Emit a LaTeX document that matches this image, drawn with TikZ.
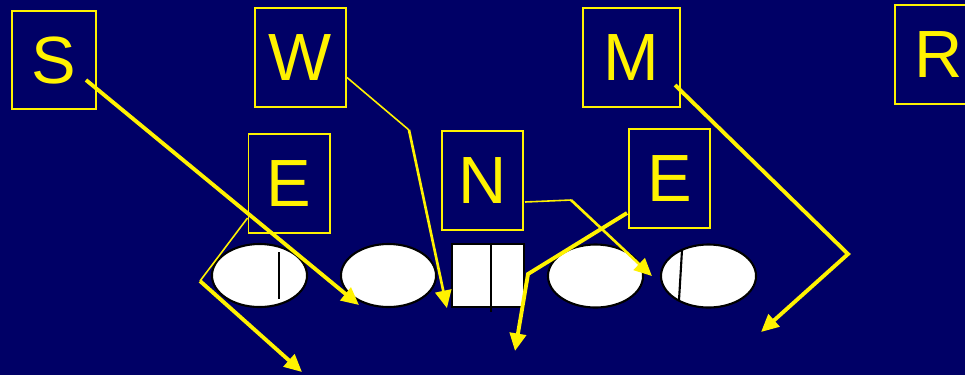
\documentclass[tikz,border=0pt]{standalone}
\usepackage{fontspec}
\setmainfont{Liberation Sans}
\usetikzlibrary{shapes.geometric, arrows.meta, calc}

\definecolor{navy}{RGB}{0,0,102}

\begin{document}
\begin{tikzpicture}[
      x=0.01cm, y=-0.01cm,
      font=\fontsize{19}{22}\selectfont,
      letterbox/.style={
          draw=yellow,
          line width=0.55pt,
          text=yellow,
          minimum width=0.81cm,
          minimum height=0.99cm,
          inner sep=0pt
      },
      player/.style={
          draw=black,
          ellipse,
          fill=white,
          line width=0.6pt,
          minimum width=0.95cm,
          minimum height=0.63cm,
          inner sep=0pt
      },
      center/.style={
          draw=black,
          fill=white,
          line width=0.6pt,
          minimum width=0.72cm,
          minimum height=0.63cm,
          inner sep=0pt
      },
      route/.style={draw=yellow, line width=1.1pt},
      midroute/.style={draw=yellow, line width=0.75pt},
      thinroute/.style={draw=yellow, line width=0.45pt},
      tip/.style={-{Triangle[length=5pt, width=4.6pt]}}
  ]
      \useasboundingbox (0,0) rectangle (965,375);
      \clip (0,0) rectangle (965,375);
      \fill[navy] (0,0) rectangle (965,375);

      % --- Letter boxes ---
      \node[letterbox, minimum width=0.84cm, minimum height=0.98cm] (s) at (54, 60) {S};
      \node[letterbox, minimum width=0.91cm] (w) at (300.5, 57.5) {W};
      \node[letterbox, minimum width=0.97cm] (m) at (631.5, 57.5) {M};
      \node[letterbox, minimum width=0.97cm] (r) at (943.5, 54.5) {\hspace{-0.1cm}R};
      \node[letterbox] (e1) at (289, 183.5) {E};
      \node[letterbox] (n) at (482.5, 180.5) {N};
      \node[letterbox] (e2) at (669.5, 178.5) {E};

      % --- Line ---
      \node[player] (ell1) at (259.5, 275.5) {};
      \node[player] (ell2) at (388.5, 275.5) {};
      \node[center] (ctr) at (488, 275.5) {};
      \node[player] (ell3) at (595.5, 276) {};
      \node[player] (ell4) at (708.5, 276) {};

      \draw[line width=0.6pt] ($(ell1.center)+(19.5,-23.5)$) -- ($(ell1.center)+(19.5,23.5)$);
      \draw[line width=0.6pt] ($(ctr.north)+(3,0)$) -- ($(ctr.south)+(3,4)$);
      \draw[line width=0.6pt] ($(ell4.center)+(-26.5,-26)$) -- ($(ell4.center)+(-29.5,24)$);

      % --- Route points ---
      \coordinate (s-end) at ($(ell2.center)+(-29.5,29.5)$);
      \coordinate (w-bend) at (409, 130);
      \coordinate (w-end) at ($(ctr.south west)+(-4,0)$);
      \coordinate (e1-bend) at (200, 281);
      \coordinate (e1-end) at (302, 372);
      \coordinate (n-bend) at (571, 200);
      \coordinate (n-end) at ($(ell4.west)+(-8,0)$);
      \coordinate (e2-bend) at (528, 274);
      \coordinate (e2-end) at (515, 351);
      \coordinate (m-bend) at (848, 254);
      \coordinate (m-end) at (761, 332);

      % --- Routes ---
      \draw[route, tip] ($(s.center)+(32,20)$) -- (s-end);

      \draw[thinroute] ($(w.east)+(0,20)$) -- (w-bend);
      \draw[midroute, tip] (w-bend) -- (w-end);

      \draw[thinroute] ($(e1.west)+(0,34.5)$) -- (e1-bend);
      \draw[route, tip] (e1-bend) -- (e1-end);

      \draw[thinroute] ($(n.east)+(1,21.5)$) -- (n-bend);
      \draw[midroute, tip] (n-bend) -- (n-end);

      \draw[route, tip] ($(e2.west)+(-1,34.5)$) -- (e2-bend) -- (e2-end);

      \draw[route, tip] ($(m.center)+(43.5,27.5)$) -- (m-bend) -- (m-end);

  \end{tikzpicture}
\end{document}
